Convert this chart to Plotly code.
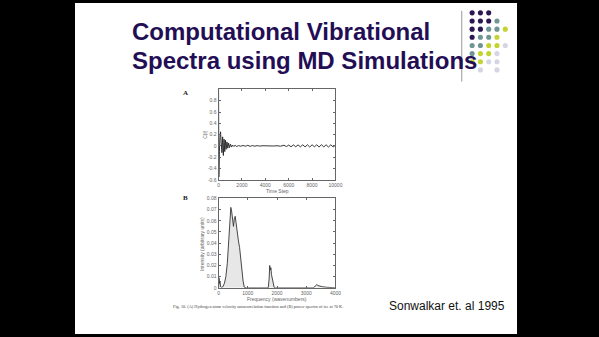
import plotly.graph_objects as go

W, H = 599, 337

# ---- Panel A: hydrogen velocity autocorrelation ----
a_t = [0, 25, 70, 120, 170, 230, 290, 350, 410, 470, 530, 590, 650, 720, 790, 860,
       940, 1020, 1110, 1200, 1300, 1420, 1550, 1700, 1900, 2100, 2300, 2500, 2700,
       2900, 3100, 3300, 3500, 3800, 4100, 4400, 4700, 5000, 5300, 5600, 5800, 6000,
       6200, 6400, 6600, 6800, 7000, 7200, 7400, 7600, 7800, 8000, 8200, 8400, 8600,
       8800, 9000, 9200, 9400, 9600, 9800, 10000]
a_c = [1.0, -0.55, -0.1, 0.15, 0.25, 0.05, -0.12, 0.16, -0.17, 0.12, -0.1, 0.1, -0.06,
       0.07, -0.04, 0.05, -0.03, 0.03, -0.02, 0.015, -0.01, 0.01, -0.01, 0.005, -0.005,
       0.008, -0.006, 0.01, -0.008, 0.006, -0.005, 0.005, -0.003, 0.003, -0.002, 0.002,
       -0.002, 0.003, -0.005, 0.012, -0.012, 0.015, -0.015, 0.018, -0.015, 0.018, -0.016,
       0.02, -0.018, 0.02, -0.02, 0.02, -0.015, 0.02, -0.02, 0.022, -0.018, 0.02, -0.02,
       0.02, -0.018, 0.01]
a_xticks = [0, 2000, 4000, 6000, 8000, 10000]
a_xtext = ["0", "2000", "4000", "6000", "8000", "10000"]
a_yticks = [-0.6, -0.4, -0.2, 0, 0.2, 0.4, 0.6, 0.8, 1.0]
a_ytext = ["-0.6", "-0.4", "-0.2", "0", "0.2", "0.4", "0.6", "0.8", ""]

# ---- Panel B: power spectrum ----
b_f = [0, 15, 30, 50, 70, 100, 150, 200, 250, 300, 340, 380, 420, 450, 480, 510, 540,
       570, 600, 640, 680, 720, 760, 800, 840, 880, 950, 1300, 1700, 1730, 1750, 1770,
       1790, 1810, 1840, 1870, 1900, 1950, 2500, 3250, 3320, 3360, 3400, 3450, 3550,
       3700, 4000]
b_i = [0.0, 0.009, 0.004, 0.006, 0.001, 0.0005, 0.001, 0.004, 0.01, 0.022, 0.04, 0.06,
       0.072, 0.068, 0.058, 0.055, 0.062, 0.064, 0.058, 0.048, 0.042, 0.036, 0.025,
       0.015, 0.006, 0.0005, 0.0, 0.0, 0.0, 0.008, 0.02, 0.016, 0.018, 0.012, 0.007,
       0.003, 0.0005, 0.0, 0.0, 0.0, 0.002, 0.003, 0.002, 0.0015, 0.001, 0.0005, 0.0]
b_xticks = [0, 1000, 2000, 3000, 4000]
b_xtext = ["0", "1000", "2000", "3000", "4000"]
b_yticks = [0, 0.01, 0.02, 0.03, 0.04, 0.05, 0.06, 0.07, 0.08]
b_ytext = ["0", "0.01", "0.02", "0.03", "0.04", "0.05", "0.06", "0.07", "0.08"]

# ---- decorative dot grid (row, col) ----
dot_rows = [0, 0, 0, 1, 1, 1, 1, 2, 2, 2, 2, 2, 3, 3, 3, 3, 4, 4, 4, 4, 4,
            5, 5, 5, 5, 6, 6, 6, 6, 7, 7]
dot_cols = [0, 1, 2, 0, 1, 2, 3, 0, 1, 2, 3, 4, 0, 1, 2, 3, 0, 1, 2, 3, 4,
            0, 1, 2, 3, 0, 1, 2, 3, 1, 3]
dot_palette = ["#2a1650", "#6f9595", "#c3d332", "#d5d5e3"]

title_lines = ["Computational Vibrational", "Spectra using MD Simulations"]
caption = ("Fig. 10. (A) Hydrogen atom velocity autocorrelation function and (B) "
           "power spectra of ice at 70 K.")
credit = "Sonwalkar et. al 1995"


def px(x):
    return x / W


def py(y):
    return 1 - y / H


fig = go.Figure()
fig.add_trace(go.Scatter(x=a_t, y=a_c, mode="lines", line=dict(color="#222", width=0.9),
                         xaxis="x", yaxis="y", showlegend=False, hoverinfo="skip"))
fig.add_trace(go.Scatter(x=b_f, y=b_i, mode="lines", line=dict(color="#333", width=0.9),
                         fill="tozeroy", fillcolor="rgba(215,215,215,0.6)",
                         xaxis="x2", yaxis="y2", showlegend=False, hoverinfo="skip"))

axis_common = dict(showline=True, linecolor="#666", linewidth=1, mirror="ticks",
                   ticks="inside", ticklen=2, tickcolor="#666", showgrid=False,
                   zeroline=False, tickfont=dict(family="Liberation Sans", size=5, color="#666"))

shapes = [
    dict(type="rect", xref="paper", yref="paper", x0=px(75), x1=px(523), y0=0, y1=1,
         fillcolor="white", line=dict(width=0), layer="below"),
    dict(type="line", xref="paper", yref="paper", x0=px(467), x1=px(467), y0=py(8), y1=py(80),
         line=dict(color="#999", width=1)),
]
for r, c in zip(dot_rows, dot_cols):
    s = r + c
    g = 0 if s <= 3 else (1 if s <= 5 else (2 if s <= 7 else 3))
    cx = 477.5 + 8.4 * c
    cy = 10 + 8.3 * r
    shapes.append(dict(type="circle", xref="paper", yref="paper",
                       x0=px(cx - 2.6), x1=px(cx + 2.6), y0=py(cy + 2.6), y1=py(cy - 2.6),
                       fillcolor=dot_palette[g], line=dict(width=0)))

annotations = [
    dict(text=title_lines[0], x=px(131), y=py(29), xanchor="left", yanchor="middle"),
    dict(text=title_lines[1], x=px(131), y=py(59), xanchor="left", yanchor="middle"),
]
for a in annotations:
    a.update(xref="paper", yref="paper", showarrow=False,
             font=dict(family="Liberation Sans", size=24, color="#230e55"))
    a["text"] = "<b>" + a["text"] + "</b>"

small = dict(family="Liberation Sans", size=5, color="#666")
annotations += [
    dict(text="<b>A</b>", x=px(187), y=py(92), font=dict(family="Liberation Serif", size=7, color="#222")),
    dict(text="<b>B</b>", x=px(187), y=py(199), font=dict(family="Liberation Serif", size=7, color="#222")),
    dict(text="Time Step", x=px(280), y=py(191), font=small),
    dict(text="Frequency (wavenumbers)", x=px(280), y=py(301), font=small),
    dict(text="C(t)", x=px(206), y=py(134), textangle=-90, font=small),
    dict(text="Intensity (arbitrary units)", x=px(203), y=py(245), textangle=-90, font=small),
    dict(text=caption, x=px(172), y=py(309), xanchor="left",
         font=dict(family="Liberation Serif", size=4.3, color="#444")),
    dict(text=credit, x=px(391), y=py(309), xanchor="left",
         font=dict(family="Liberation Sans", size=12, color="#111")),
]
for a in annotations[2:]:
    a.update(xref="paper", yref="paper", showarrow=False)
    a.setdefault("xanchor", "center")
    a.setdefault("yanchor", "middle")

fig.update_layout(
    width=W, height=H, margin=dict(l=0, r=0, t=0, b=0),
    paper_bgcolor="black", plot_bgcolor="#fbfbfb", showlegend=False,
    xaxis=dict(domain=[px(220.5), px(339)], range=[0, 10000], tickvals=a_xticks,
               ticktext=a_xtext, ticklabelstandoff=0, anchor="y", **axis_common),
    yaxis=dict(domain=[py(180), py(88)], range=[-0.6, 1.0], tickvals=a_yticks,
               ticktext=a_ytext, anchor="x", **axis_common),
    xaxis2=dict(domain=[px(220.5), px(339)], range=[0, 4000], tickvals=b_xticks,
                ticktext=b_xtext, ticklabelstandoff=0, anchor="y2", **axis_common),
    yaxis2=dict(domain=[py(290), py(199)], range=[0, 0.08], tickvals=b_yticks,
                ticktext=b_ytext, anchor="x2", **axis_common),
    shapes=shapes, annotations=annotations,
)

fig.write_html("out.html")
